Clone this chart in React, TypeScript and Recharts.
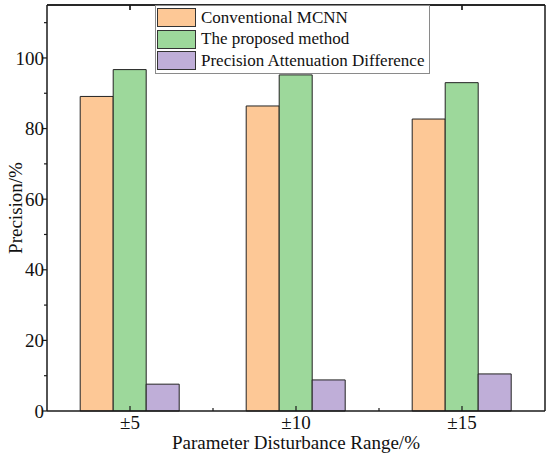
import { Bar, BarChart, CartesianGrid, ReferenceLine, XAxis, YAxis } from "recharts";

const ranges = ["±5", "±10", "±15"];
const conventional = [89.1, 86.4, 82.7];
const proposed = [96.7, 95.2, 93.0];
const attenuation = [7.6, 8.8, 10.5];
const yTicks = [0, 10, 20, 30, 40, 50, 60, 70, 80, 90, 100, 110];
const yMax = 115;
const topTickLen = 1.4;

const seriesInfo = [
  { key: "conventional", name: "Conventional MCNN", color: "#fdc896" },
  { key: "proposed", name: "The proposed method", color: "#9dd89b" },
  { key: "attenuation", name: "Precision Attenuation Difference", color: "#bfaed8" }
];

const data = ranges.map((range, i) => ({
  range,
  conventional: conventional[i],
  proposed: proposed[i],
  attenuation: attenuation[i]
}));

const FONT = "'Liberation Serif', 'Times New Roman', serif";
const AXIS = "#1a1a1a";

function LeftTick({ x, y, payload }: any) {
  const major = payload.value % 20 === 0;
  return (
    <g>
      <line x1={x - (major ? 5 : 3)} x2={x} y1={y} y2={y} stroke={AXIS} strokeWidth={1.2} />
      {major && (
        <text x={x - 3} y={y} dy="0.35em" textAnchor="end" fontFamily={FONT} fontSize={19} fill="#111">
          {payload.value}
        </text>
      )}
    </g>
  );
}

function RightTick({ x, y, payload }: any) {
  const major = payload.value % 20 === 0;
  return <line x1={x} x2={x - (major ? 5 : 3)} y1={y} y2={y} stroke={AXIS} strokeWidth={1.2} />;
}

function BottomTick({ x, y, payload, index, width, visibleTicksCount }: any) {
  const half = width / (2 * visibleTicksCount);
  return (
    <g>
      <line x1={x} x2={x} y1={y} y2={y - 5} stroke={AXIS} strokeWidth={1.2} />
      {index < visibleTicksCount - 1 && (
        <line x1={x + half} x2={x + half} y1={y} y2={y - 3} stroke={AXIS} strokeWidth={1.2} />
      )}
      <text x={x} y={y + 18} textAnchor="middle" fontFamily={FONT} fontSize={19} fill="#111">
        {payload.value}
      </text>
    </g>
  );
}

// top frame line with downward ticks at the category centres
function TopFrame(p: any) {
  const span = p.x2 - p.x1;
  return (
    <g key={`top-${p.index}`}>
      <line x1={p.x1} x2={p.x2} y1={p.y1} y2={p.y2} stroke={AXIS} strokeWidth={1.5} />
      {ranges.map((r, i) => {
        const cx = p.x1 + (span * (i + 0.5)) / ranges.length;
        return <line key={r} x1={cx} x2={cx} y1={p.y1} y2={p.y1 + 5} stroke={AXIS} strokeWidth={1.2} />;
      })}
    </g>
  );
}

function LegendBox() {
  return (
    <div
      style={{
        position: "absolute",
        top: 5,
        left: 155,
        border: "1px solid #8a8a8a",
        background: "#fff",
        padding: 1,
        fontFamily: FONT,
        fontSize: 17,
        color: "#111",
        width: 271
      }}
    >
      {seriesInfo.map((s) => (
        <div key={s.key} style={{ display: "flex", alignItems: "center", height: 21.5 }}>
          <span
            style={{
              display: "inline-block",
              width: 37,
              height: 17,
              background: s.color,
              border: "1px solid #333",
              marginRight: 5
            }}
          />
          <span style={{ lineHeight: "18px" }}>{s.name}</span>
        </div>
      ))}
    </div>
  );
}

export default function App() {
  return (
    <div style={{ position: "relative", width: 550, height: 456, background: "#fff" }}>
      <style>{"body{margin:0}"}</style>
      <BarChart
        width={550}
        height={456}
        data={data}
        margin={{ top: 5, right: 0, bottom: 0, left: 0 }}
        barCategoryGap="20%"
        barGap={0}
      >
        <CartesianGrid vertical={false} horizontalValues={[yMax]} horizontal={TopFrame} />
        <XAxis
          dataKey="range"
          height={45}
          axisLine={{ stroke: AXIS, strokeWidth: 1.5 }}
          tickLine={false}
          tickSize={0}
          tickMargin={0}
          tick={<BottomTick />}
          interval={0}
          label={{
            content: ({ viewBox }: any) => (
              <text
                x={viewBox.x + viewBox.width / 2}
                y={viewBox.y + 38}
                textAnchor="middle"
                fontFamily={FONT}
                fontSize={19}
                fill="#111"
              >
                Parameter Disturbance Range/%
              </text>
            )
          }}
        />
        <YAxis
          width={47}
          domain={[0, yMax]}
          ticks={yTicks}
          interval={0}
          axisLine={{ stroke: AXIS, strokeWidth: 1.5 }}
          tickLine={false}
          tickSize={0}
          tickMargin={0}
          tick={<LeftTick />}
          label={{
            content: ({ viewBox }: any) => {
              const cx = 15;
              const cy = viewBox.y + viewBox.height / 2;
              return (
                <text
                  x={cx}
                  y={cy}
                  transform={`rotate(-90 ${cx} ${cy})`}
                  textAnchor="middle"
                  dominantBaseline="central"
                  fontFamily={FONT}
                  fontSize={19}
                  fill="#111"
                >
                  Precision/%
                </text>
              );
            }
          }}
        />
        <YAxis
          yAxisId="right"
          orientation="right"
          width={5}
          domain={[0, yMax]}
          ticks={yTicks}
          interval={0}
          axisLine={{ stroke: AXIS, strokeWidth: 1.5 }}
          tickLine={false}
          tickSize={0}
          tickMargin={0}
          tick={<RightTick />}
        />
        <ReferenceLine y={yMax} stroke={AXIS} strokeWidth={1.5} ifOverflow="visible" />
        {ranges.map((r) => (
          <ReferenceLine
            key={r}
            segment={[
              { x: r, y: yMax },
              { x: r, y: yMax - topTickLen }
            ]}
            stroke={AXIS}
            strokeWidth={1.2}
            ifOverflow="visible"
          />
        ))}
        {seriesInfo.map((s) => (
          <Bar
            key={s.key}
            dataKey={s.key}
            name={s.name}
            fill={s.color}
            stroke="#222"
            strokeWidth={1}
            isAnimationActive={false}
          />
        ))}
      </BarChart>
      <LegendBox />
    </div>
  );
}
